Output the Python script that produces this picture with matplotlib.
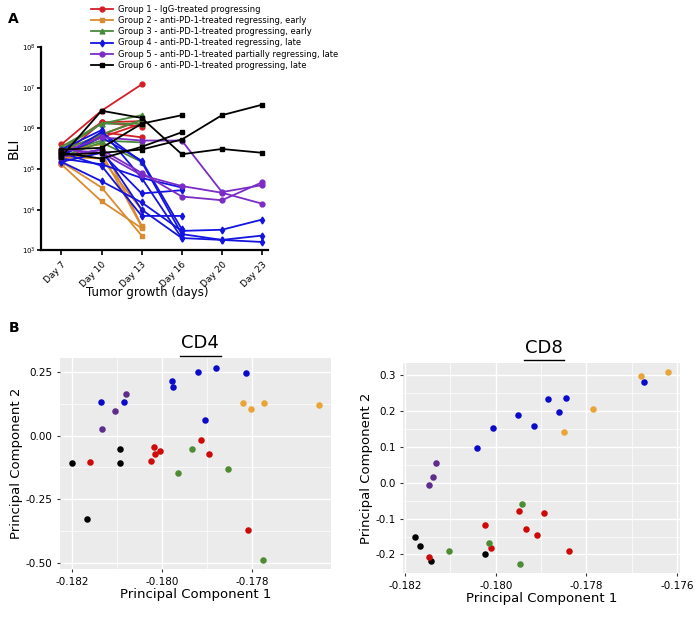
import numpy as np
import matplotlib
matplotlib.use("Agg")
import matplotlib.pyplot as plt
from matplotlib.lines import Line2D

nan = np.nan
days = ["Day 7", "Day 10", "Day 13", "Day 16", "Day 20", "Day 23"]

g1 = [[4e5, 2.7e6, 1.2e7], [1.3e5, 7e5, 1.6e6], [2e5, 1.4e6, 1.1e6],
      [1.5e5, 8e5, 6e5], [3e5, 1.4e6, 1.5e6], [2.5e5, 6e5, 1.3e6]]
g2 = [[1.3e5, 1.6e4, 3.5e3], [1.5e5, 3.5e4, 2.3e3], [2e5, 1.8e5, 1e4],
      [3e5, 4e5, 4e3], [1.7e5, 2.5e5, 3.8e3]]
g3 = [[3e5, 1.3e6, 2.1e6], [2.5e5, 5e5, 4.5e5], [2e5, 4.5e5, 1.5e5],
      [3.5e5, 1.3e6, 1.3e6], [2.8e5, 7e5, 1.6e6]]
g4 = [[2e5, 8e5, 1.5e5, 2.5e3, 1.8e3, 2.3e3],
      [1.5e5, 5e4, 1.5e4, 3e3, 3.2e3, 5.7e3],
      [2.5e5, 1.2e5, 7e3, 7e3, nan, nan],
      [3e5, 9e5, 6e4, 3.5e4, nan, nan],
      [2e5, 3e5, 1e4, 2e3, 1.8e3, 1.6e3],
      [1.5e5, 2.5e5, 2.5e4, 3e4, nan, nan],
      [1.8e5, 1.3e5, 6e4, 2e3, nan, nan],
      [2.2e5, 6e5, 1.6e5, 3.3e3, nan, nan]]
g5 = [[2.5e5, 6e5, 5e5, 5e5, 2.7e4, 4e4],
      [2e5, 3e5, 8e4, 2.1e4, 1.7e4, 4.7e4],
      [3e5, 2.5e5, 7e4, 3.8e4, 2.6e4, 1.4e4]]
g6 = [[2e5, 2.7e6, 1.8e6, 2.3e5, 3.1e5, 2.5e5],
      [2.5e5, 1.8e5, 3.5e5, 8e5, nan, nan],
      [3e5, 3.3e5, 1.3e6, 2.1e6, nan, nan],
      [2.2e5, 2.5e5, 3e5, 5.3e5, 2.1e6, 3.8e6]]

labels = ["Group 1 - IgG-treated progressing",
          "Group 2 - anti-PD-1-treated regressing, early",
          "Group 3 - anti-PD-1-treated progressing, early",
          "Group 4 - anti-PD-1-treated regressing, late",
          "Group 5 - anti-PD-1-treated partially regressing, late",
          "Group 6 - anti-PD-1-treated progressing, late"]
line_colors = ["#d41f26", "#d98b2f", "#4a8a3c", "#1414e0", "#7b2cc6", "#000000"]
markers = ["o", "s", "^", "d", "o", "s"]
groups = [g1, g2, g3, g4, g5, g6]

# PCA data
cd4_x = {"blue": [-0.18137, -0.18084, -0.17978, -0.17976, -0.17921, -0.17880, -0.17814, -0.17904],
         "purple": [-0.18080, -0.18106, -0.18133],
         "orange": [-0.17820, -0.17802, -0.17773, -0.17650],
         "black": [-0.18200, -0.18093, -0.18095, -0.18167],
         "red": [-0.18161, -0.18019, -0.18015, -0.18005, -0.18024, -0.17914, -0.17896, -0.17809],
         "green": [-0.17933, -0.17965, -0.17854, -0.17776]}
cd4_y = {"blue": [0.132, 0.134, 0.216, 0.191, 0.250, 0.268, 0.247, 0.063],
         "purple": [0.163, 0.096, 0.025],
         "orange": [0.128, 0.107, 0.130, 0.122],
         "black": [-0.108, -0.051, -0.108, -0.330],
         "red": [-0.104, -0.046, -0.071, -0.059, -0.101, -0.018, -0.074, -0.370],
         "green": [-0.053, -0.146, -0.130, -0.491]}
cd8_x = {"blue": [-0.18042, -0.18007, -0.17950, -0.17915, -0.17884, -0.17860, -0.17845, -0.17674],
         "purple": [-0.18132, -0.18139, -0.18148],
         "orange": [-0.17849, -0.17785, -0.17679, -0.17621],
         "black": [-0.18179, -0.18168, -0.18143, -0.18023],
         "red": [-0.18147, -0.18024, -0.17949, -0.17934, -0.17909, -0.17893, -0.18011, -0.17839],
         "green": [-0.17942, -0.18015, -0.18104, -0.17946]}
cd8_y = {"blue": [0.098, 0.153, 0.189, 0.159, 0.235, 0.197, 0.238, 0.281],
         "purple": [0.056, 0.015, -0.006],
         "orange": [0.142, 0.205, 0.298, 0.311],
         "black": [-0.151, -0.176, -0.217, -0.198],
         "red": [-0.206, -0.119, -0.080, -0.130, -0.147, -0.085, -0.182, -0.190],
         "green": [-0.058, -0.169, -0.191, -0.228]}
pt_colors = {"blue": "#0a0ac8", "purple": "#5e2d8c", "orange": "#e8a437",
             "black": "#000000", "red": "#cc0a0a", "green": "#4f8b34"}

fig = plt.figure(figsize=(7, 6.18), dpi=100)

# Panel A
ax = fig.add_axes([0.059, 0.595, 0.324, 0.329])
xs = np.arange(len(days))
for g, c, m in zip(groups, line_colors, markers):
    for row in g:
        y = np.array(row, dtype=float)
        x = xs[:len(y)]
        ok = ~np.isnan(y)
        ax.plot(x[ok], y[ok], color=c, marker=m, ms=3.5, lw=1.3)
ax.set_yscale("log")
ax.set_ylim(1e3, 1e8)
ax.set_xlim(-0.5, 5.15)
ax.set_xticks(xs)
ax.set_xticklabels(days, rotation=45, fontsize=6.5, ha="right", rotation_mode="anchor")
ax.tick_params(axis="y", labelsize=5, width=1.2, pad=1, length=3)
ax.tick_params(axis="x", width=1.2)
ax.minorticks_off()
for s in ["top", "right"]:
    ax.spines[s].set_visible(False)
for s in ["left", "bottom"]:
    ax.spines[s].set_linewidth(1.6)
ax.set_ylabel("BLI", fontsize=10, labelpad=1)
fig.text(0.21, 0.527, "Tumor growth (days)", ha="center", va="center", fontsize=8.5)
handles = [Line2D([], [], color=c, marker=m, ms=3.5, lw=1.3) for c, m in zip(line_colors, markers)]
fig.legend(handles, labels, loc="upper left", bbox_to_anchor=(0.125, 0.997), frameon=False,
           fontsize=6, handlelength=2.6, labelspacing=0.25, borderaxespad=0, handletextpad=0.6)
fig.text(0.012, 0.962, "A", fontsize=10, fontweight="bold")
fig.text(0.012, 0.462, "B", fontsize=10, fontweight="bold")

def pca(rect, xd, yd, xlim, ylim, xt, xtl, yt, ytl, title, tx, ty, uw):
    a = fig.add_axes(rect)
    a.set_facecolor("#ebebeb")
    for k in xd:
        a.scatter(xd[k], yd[k], s=22, color=pt_colors[k], zorder=3, linewidths=0)
    a.set_xlim(*xlim)
    a.set_ylim(*ylim)
    a.set_xticks(xt)
    a.set_xticklabels(xtl, fontsize=7.5)
    a.set_yticks(yt)
    a.set_yticklabels(ytl, fontsize=7.5)
    a.set_xticks(np.array(xt[:-1]) + 0.001, minor=True)
    a.set_yticks(np.array(yt[:-1]) + (yt[1] - yt[0]) / 2, minor=True)
    a.grid(True, which="major", color="white", lw=1.0)
    a.grid(True, which="minor", color="white", lw=0.5)
    a.tick_params(which="both", length=2, color="#333333")
    a.tick_params(which="minor", length=0)
    for s in a.spines.values():
        s.set_visible(False)
    a.set_axisbelow(True)
    a.set_xlabel("Principal Component 1", fontsize=9.5, labelpad=1)
    a.set_ylabel("Principal Component 2", fontsize=9.5, labelpad=2)
    fig.text(tx, ty, title, ha="center", va="bottom", fontsize=13)
    fig.add_artist(Line2D([tx - uw / 2, tx + uw / 2], [ty - 0.006, ty - 0.006], color="black", lw=1))
    return a

pca([0.086, 0.079, 0.387, 0.342], cd4_x, cd4_y, (-0.18227, -0.17624), (-0.526, 0.307),
    [-0.182, -0.180, -0.178], ["-0.182", "-0.180", "-0.178"],
    [-0.5, -0.25, 0, 0.25], ["-0.50", "-0.25", "0.00", "0.25"], "CD4", 0.286, 0.43, 0.058)
pca([0.576, 0.073, 0.396, 0.340], cd8_x, cd8_y, (-0.18204, -0.17593), (-0.2516, 0.3354),
    [-0.182, -0.180, -0.178, -0.176], ["-0.182", "-0.180", "-0.178", "-0.176"],
    [-0.2, -0.1, 0, 0.1, 0.2, 0.3], ["-0.2", "-0.1", "0.0", "0.1", "0.2", "0.3"],
    "CD8", 0.777, 0.423, 0.058)

fig.savefig("out.png", dpi=100)
